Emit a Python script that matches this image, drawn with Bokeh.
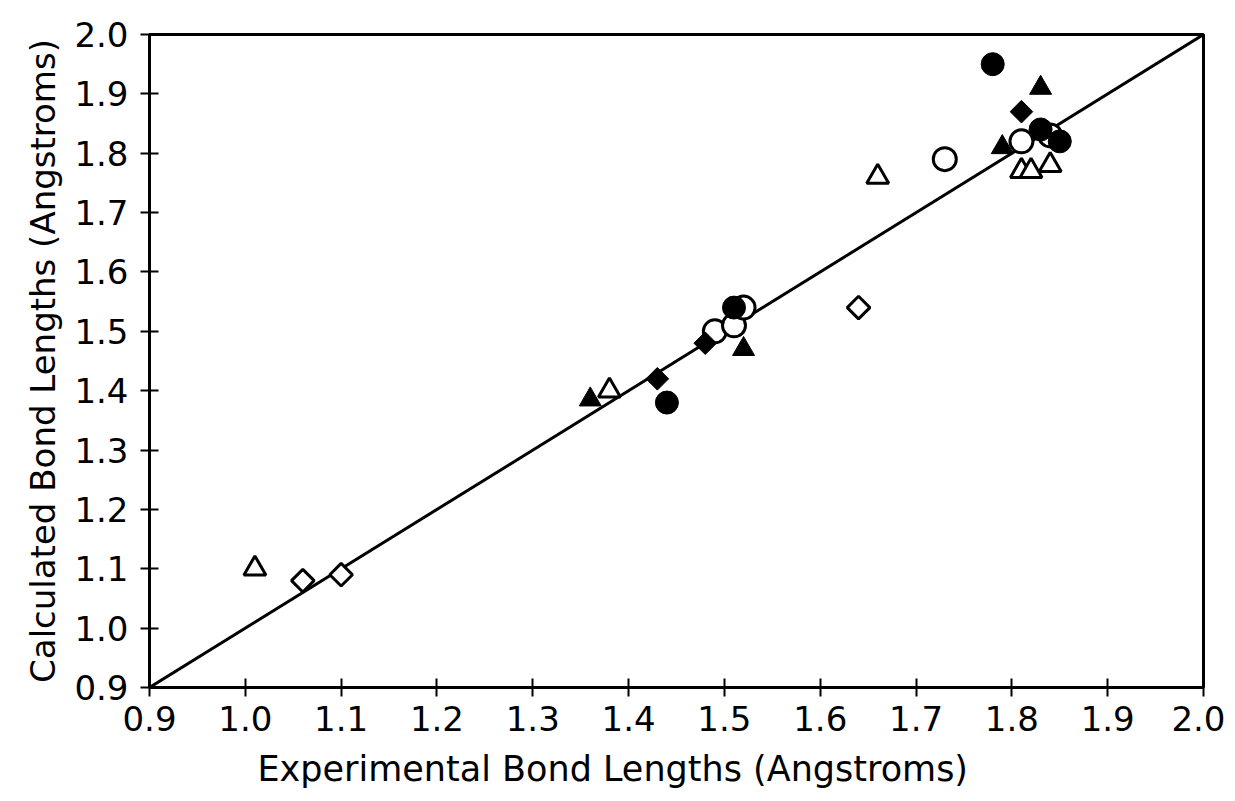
import numpy as np
from bokeh.plotting import figure
from bokeh.embed import file_html
from bokeh.resources import INLINE
from bokeh.models import FixedTicker, Range1d, PrintfTickFormatter, Title

# ---- data ----
ref_line = [0.9, 2.0]

filled_circle_x = [1.44, 1.51, 1.78, 1.83, 1.85]
filled_circle_y = [1.38, 1.54, 1.95, 1.84, 1.82]

open_circle_x = [1.49, 1.51, 1.52, 1.73, 1.81, 1.84]
open_circle_y = [1.50, 1.51, 1.54, 1.79, 1.82, 1.83]

filled_tri_x = [1.36, 1.52, 1.79, 1.83]
filled_tri_y = [1.385, 1.47, 1.81, 1.91]

open_tri_x = [1.01, 1.38, 1.66, 1.81, 1.82, 1.84]
open_tri_y = [1.10, 1.40, 1.76, 1.77, 1.77, 1.78]

filled_dia_x = [1.43, 1.48, 1.81]
filled_dia_y = [1.42, 1.48, 1.87]

open_dia_x = [1.06, 1.10, 1.64]
open_dia_y = [1.08, 1.09, 1.54]

tick_values = [0.9, 1.0, 1.1, 1.2, 1.3, 1.4, 1.5, 1.6, 1.7, 1.8, 1.9, 2.0]

x_label = "Experimental Bond Lengths (Angstroms)"
y_label = "Calculated Bond Lengths (Angstroms)"

FONT = "DejaVu Sans"

p = figure(width=1225, height=801, output_backend="svg", toolbar_location=None,
           x_range=Range1d(0.9, 2.0), y_range=Range1d(0.9, 2.0),
           min_border_left=149, min_border_right=22, min_border_top=34,
           min_border_bottom=114)
p.background_fill_color = "white"
p.border_fill_color = "white"
p.outline_line_color = "black"
p.outline_line_width = 3
p.grid.visible = False

for ax in (p.xaxis[0], p.yaxis[0]):
    ax.ticker = FixedTicker(ticks=tick_values)
    ax.formatter = PrintfTickFormatter(format="%.1f")
    ax.minor_tick_line_color = None
    ax.major_tick_in = 9
    ax.major_tick_out = 9
    ax.major_tick_line_width = 2
    ax.major_tick_line_color = "black"
    ax.axis_line_width = 3
    ax.axis_line_color = "black"
    ax.major_label_text_font = FONT
    ax.major_label_text_font_size = "34px"
    ax.major_label_text_color = "black"
    ax.axis_label_text_font = FONT
    ax.axis_label_text_font_style = "normal"
    ax.axis_label_text_color = "black"

p.yaxis[0].axis_label = y_label
p.yaxis[0].axis_label_text_font_size = "34px"
p.xaxis[0].major_label_standoff = 9
p.yaxis[0].major_label_standoff = 12
p.yaxis[0].axis_label_standoff = 8

xtitle = Title(text=x_label, align="left", offset=108, standoff=26,
               text_font=FONT, text_font_size="35px", text_font_style="normal",
               text_color="black")
p.add_layout(xtitle, "below")

p.line(ref_line, ref_line, line_color="black", line_width=3)

p.scatter(open_dia_x, open_dia_y, marker="square", size=16, angle=np.pi / 4,
          fill_color="white", line_color="black", line_width=3)
p.scatter(open_tri_x, open_tri_y, marker="triangle", size=22,
          fill_color="white", line_color="black", line_width=3)
p.scatter(open_circle_x, open_circle_y, marker="circle", size=23,
          fill_color="white", line_color="black", line_width=3)
p.scatter(filled_tri_x, filled_tri_y, marker="triangle", size=22,
          fill_color="black", line_color="black", line_width=1)
p.scatter(filled_dia_x, filled_dia_y, marker="square", size=16, angle=np.pi / 4,
          fill_color="black", line_color="black", line_width=1)
p.scatter(filled_circle_x, filled_circle_y, marker="circle", size=23,
          fill_color="black", line_color="black", line_width=1)

open("out.html", "w").write(file_html(p, INLINE))
